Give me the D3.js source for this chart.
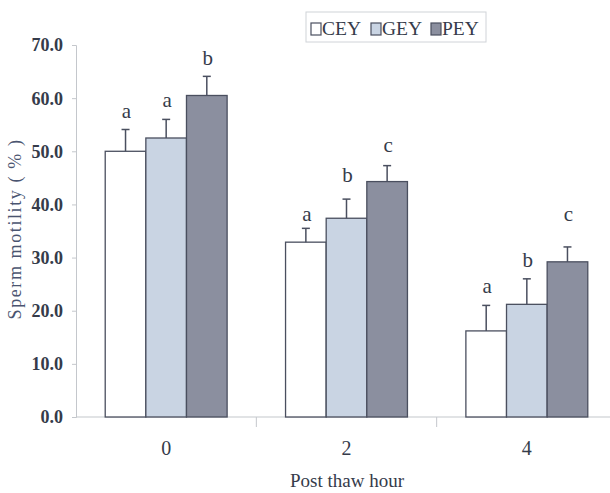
<!DOCTYPE html>
<html><head><meta charset="utf-8">
<script src="https://cdn.jsdelivr.net/npm/d3@7"></script>
<style>
html,body{margin:0;padding:0;background:#fff;}
svg{display:block;font-family:"Liberation Serif","Times New Roman",serif;}
</style></head>
<body>
<svg id="chart" width="610" height="493"></svg>
<script>
// ---- data ----
const hours = ["0", "2", "4"];
const series = ["CEY", "GEY", "PEY"];
const CEY = [50.0, 32.9, 16.2];
const GEY = [52.5, 37.4, 21.2];
const PEY = [60.5, 44.3, 29.2];
const CEY_err = [4.1, 2.6, 4.8];
const GEY_err = [3.5, 3.6, 4.8];
const PEY_err = [3.6, 3.0, 2.8];
const CEY_sig = ["a", "a", "a"];
const GEY_sig = ["a", "b", "b"];
const PEY_sig = ["b", "c", "c"];
const CEY_sigAt = [56.2, 36.9, 23.4];
const GEY_sigAt = [58.4, 44.3, 28.2];
const PEY_sigAt = [66.2, 49.9, 36.8];
const yTicks = [0, 10, 20, 30, 40, 50, 60, 70];
const yTitle = "Sperm motility ( % )";
const xTitle = "Post thaw hour";

const vals = {CEY, GEY, PEY};
const errs = {CEY: CEY_err, GEY: GEY_err, PEY: PEY_err};
const sigs = {CEY: CEY_sig, GEY: GEY_sig, PEY: PEY_sig};
const sigAt = {CEY: CEY_sigAt, GEY: GEY_sigAt, PEY: PEY_sigAt};
const fills = {CEY: "#ffffff", GEY: "#c9d4e3", PEY: "#8b8f9f"};
const stroke = "#4a4f5f";
const textCol = "#353b4a";
const axisCol = "#c4c7cc";

const svg = d3.select("#chart");
const y = d3.scaleLinear().domain([0, 70]).range([417, 45]);
const x0 = d3.scaleBand().domain(hours).range([76, 617]).paddingInner(0).paddingOuter(0);
const bw = x0.bandwidth();
const x1 = d3.scaleBand().domain(series).range([bw * 0.162, bw * 0.838]).padding(0);

// y axis
const yAxis = svg.append("g").attr("transform", "translate(76,0)")
  .call(d3.axisLeft(y).tickValues(yTicks).tickFormat(d3.format(".1f")).tickSize(4).tickPadding(9));
yAxis.select(".domain").attr("stroke", axisCol);
yAxis.selectAll(".tick line").attr("stroke", axisCol);
yAxis.selectAll(".tick text").attr("fill", textCol).attr("font-size", 18)
  .attr("font-family", "Liberation Serif").attr("font-weight", "bold").attr("dy", "0.33em");

// x axis baseline
svg.append("line").attr("x1", 76).attr("x2", 610).attr("y1", y(0)).attr("y2", y(0))
  .attr("stroke", axisCol).attr("stroke-width", 1.2);
// boundary ticks
svg.selectAll(".xb").data(hours.slice(1)).enter().append("line")
  .attr("x1", d => x0(d)).attr("x2", d => x0(d))
  .attr("y1", y(0)).attr("y2", y(0) + 10)
  .attr("stroke", axisCol);
// x labels
svg.selectAll(".xl").data(hours).enter().append("text")
  .attr("x", d => x0(d) + bw / 2).attr("y", 455)
  .attr("text-anchor", "middle").attr("font-size", 20).attr("fill", textCol)
  .text(d => d);

// bars
const groups = svg.selectAll(".grp").data(hours).enter().append("g")
  .attr("transform", d => `translate(${x0(d)},0)`);
series.forEach(s => {
  groups.append("rect")
    .attr("x", (d) => x1(s)).attr("width", x1.bandwidth())
    .attr("y", (d, i) => y(vals[s][i]))
    .attr("height", (d, i) => y(0) - y(vals[s][i]))
    .attr("fill", fills[s]).attr("stroke", stroke).attr("stroke-width", 1.3);
});
// error bars + letters
series.forEach(s => {
  groups.append("line")
    .attr("x1", x1(s) + x1.bandwidth() / 2).attr("x2", x1(s) + x1.bandwidth() / 2)
    .attr("y1", (d, i) => y(vals[s][i])).attr("y2", (d, i) => y(vals[s][i] + errs[s][i]))
    .attr("stroke", stroke).attr("stroke-width", 1.5);
  groups.append("line")
    .attr("x1", x1(s) + x1.bandwidth() / 2 - 4).attr("x2", x1(s) + x1.bandwidth() / 2 + 4)
    .attr("y1", (d, i) => y(vals[s][i] + errs[s][i])).attr("y2", (d, i) => y(vals[s][i] + errs[s][i]))
    .attr("stroke", stroke).attr("stroke-width", 1.5);
  groups.append("text")
    .attr("x", x1(s) + x1.bandwidth() / 2 + 1)
    .attr("y", (d, i) => y(sigAt[s][i]))
    .attr("text-anchor", "middle").attr("font-size", 21).attr("fill", textCol)
    .text((d, i) => sigs[s][i]);
});

// axis titles
svg.append("text").attr("transform", "translate(21,229) rotate(-90)")
  .attr("text-anchor", "middle").attr("font-size", 18).attr("letter-spacing", 1.6)
  .attr("fill", "#4a5470").text(yTitle);
svg.append("text").attr("x", 347).attr("y", 487)
  .attr("text-anchor", "middle").attr("font-size", 19).attr("fill", textCol).text(xTitle);

// legend
const lg = svg.append("g");
lg.append("rect").attr("x", 306).attr("y", 12).attr("width", 180).attr("height", 30)
  .attr("fill", "#fff").attr("stroke", "#d0d3d8");
const lx = [311, 371, 431];
series.forEach((s, i) => {
  lg.append("rect").attr("x", lx[i]).attr("y", 23).attr("width", 10).attr("height", 12)
    .attr("fill", fills[s]).attr("stroke", stroke).attr("stroke-width", 1.2);
  lg.append("text").attr("x", lx[i] + 11).attr("y", 35).attr("font-size", 19.5)
    .attr("fill", textCol).text(s);
});
</script>
</body></html>
